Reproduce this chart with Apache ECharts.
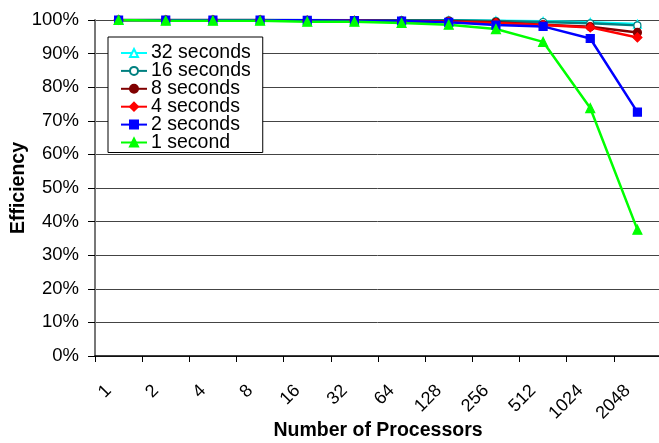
<!DOCTYPE html>
<html>
<head>
<meta charset="utf-8">
<script src="https://cdn.jsdelivr.net/npm/echarts@6/dist/echarts.min.js"></script>
<style>
html,body{margin:0;padding:0;background:#fff;}
#main{width:659px;height:443px;}
</style>
</head>
<body>
<div id="main"></div>
<script>
const categories = ['1','2','4','8','16','32','64','128','256','512','1024','2048'];
const s32 = [100,100,100,100,100,99.9,99.9,99.9,99.8,99.6,99.3,98.8];
const s16 = [100,100,100,100,100,99.9,99.9,99.9,99.7,99.4,99.0,98.4];
const s8  = [100,100,100,100,99.9,99.8,99.7,99.6,99.3,98.6,98.0,96.3];
const s4  = [100,100,100,100,99.8,99.8,99.6,99.5,99.1,98.5,97.8,94.8];
const s2  = [100,100,100,100,99.9,99.8,99.7,99.3,98.5,98.1,94.5,72.6];
const s1  = [100,99.8,99.8,99.8,99.5,99.5,99.1,98.6,97.3,93.5,73.8,37.6];
const seriesNames = ['32 seconds','16 seconds','8 seconds','4 seconds','2 seconds','1 second'];

const FONT = 'Liberation Sans, Arial, sans-serif';
function mk(name, data, color, symbol, fill, size) {
  return {
    name, type: 'line', data, symbol, symbolSize: size,
    lineStyle: {color, width: 2.5},
    itemStyle: {color: fill, borderColor: color, borderWidth: 1.2},
    emphasis: {disabled: true},
    animation: false
  };
}
const chart = echarts.init(document.getElementById('main'), null, {renderer: 'canvas'});
chart.setOption({
  backgroundColor: '#fff',
  animation: false,
  grid: {left: 95, top: 20, width: 566, height: 336, outerBoundsMode: 'none', containLabel: false},
  legend: {
    orient: 'vertical', left: 108, top: 37,
    data: seriesNames,
    backgroundColor: '#fff', borderColor: '#000', borderWidth: 1,
    padding: [6, 12, 0, 12],
    itemWidth: 26, itemHeight: 10, itemGap: -2.1,
    textStyle: {fontFamily: FONT, fontSize: 19.5, color: '#000', padding: [0,0,0,-1]}
  },
  xAxis: {
    type: 'category', data: categories, boundaryGap: true,
    name: 'Number of Processors', nameLocation: 'middle', nameGap: 65, nameMoveOverlap: false,
    nameTextStyle: {fontFamily: FONT, fontSize: 19.5, fontWeight: 'bold', color: '#000'},
    axisLine: {lineStyle: {color: '#000', width: 1.5}},
    axisTick: {show: true, length: 6, lineStyle: {color: '#000'}, alignWithLabel: false},
    axisLabel: {rotate: 45, margin: 22, padding: [0, 14, 0, 0], fontFamily: FONT, fontSize: 18, color: '#000', interval: 0},
    splitLine: {show: false}
  },
  yAxis: {
    type: 'value', min: 0, max: 100, interval: 10,
    name: 'Efficiency', nameLocation: 'middle', nameGap: 66, nameRotate: 90, nameMoveOverlap: false,
    nameTextStyle: {fontFamily: FONT, fontSize: 19.5, fontWeight: 'bold', color: '#000'},
    axisLine: {show: true, lineStyle: {color: '#777', width: 2}},
    axisTick: {show: true, length: 7, lineStyle: {color: '#000'}},
    axisLabel: {formatter: '{value}%', margin: 16, fontFamily: FONT, fontSize: 18.5, color: '#000'},
    splitLine: {show: true, lineStyle: {color: '#444', width: 1}}
  },
  series: [
    mk('32 seconds', s32, '#00FFFF', 'triangle', '#fff', 8),
    mk('16 seconds', s16, '#008080', 'circle', '#fff', 7),
    mk('8 seconds', s8, '#800000', 'circle', '#800000', 8),
    mk('4 seconds', s4, '#FF0000', 'diamond', '#FF0000', 9),
    mk('2 seconds', s2, '#0000FF', 'rect', '#0000FF', 8),
    mk('1 second', s1, '#00FF00', 'triangle', '#00FF00', 9)
  ]
});
</script>
</body>
</html>
